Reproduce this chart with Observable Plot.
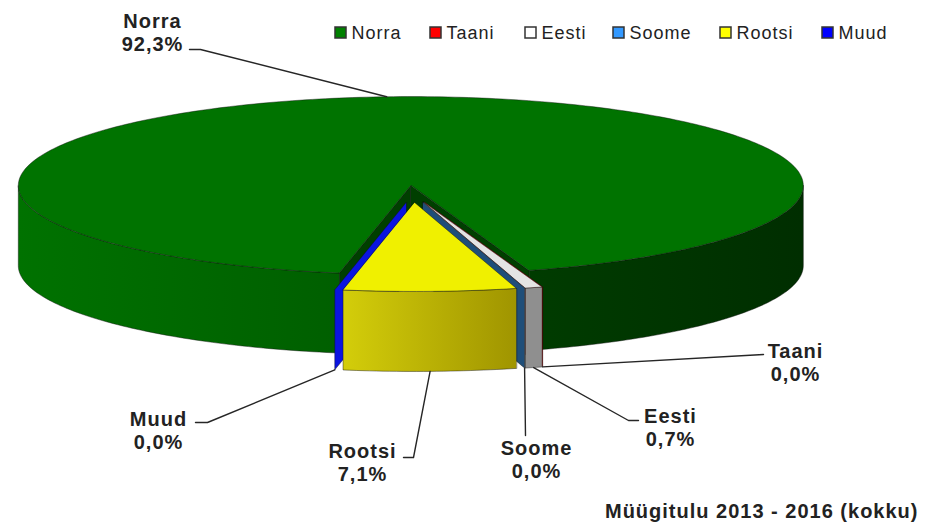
<!DOCTYPE html>
<html><head><meta charset="utf-8">
<script src="https://cdn.jsdelivr.net/npm/d3@7"></script>
<script src="https://cdn.jsdelivr.net/npm/@observablehq/plot@0.6"></script>
<style>body{margin:0;background:#fff}</style>
</head><body><div id="chart"></div>
<script>
// ---- data ----
const categories = ["Norra", "Taani", "Eesti", "Soome", "Rootsi", "Muud"];
const shares = [92.3, 0.0, 0.7, 0.0, 7.1, 0.0];
const shareLabels = ["92,3%", "0,0%", "0,7%", "0,0%", "7,1%", "0,0%"];
const caption = "Müügitulu 2013 - 2016 (kokku)";

// ---- styles ----
const legendColors = ["#008000", "#ff0000", "#ffffff", "#3399ff", "#ffff00", "#0000ff"];
const topColors = ["#007300", "#ff0000", "#e4e4e4", "#3399ff", "#f0f000", "#0000ff"];
const faceColors = ["#003f00", "#c00000", "#a8a8a8", "#1f4e79", "#b5ad00", "#0a14e0"];
const wallFills = ["url(#gNorra)", "#c00000", "#8f8f8f", "#1f4e79", "url(#gRootsi)", "#0000cc"];

// ---- layout ----
const W = 945, H = 523;
const geom = {cx: 412.6, cy: 193.5, rx: 392.5, ry: 89, depth: 80, explode: 0.095, start: 100.5};
const drawOrder = [0, 1, 2, 3, 5, 4];
const labelLayout = [
  {x: 152, y: 50, elbow: [200, 49], end: [189, 49], back: true},
  {x: 795, y: 380, elbow: [763, 354], end: [763, 354]},
  {x: 670, y: 445, elbow: [628, 420], end: [638, 420]},
  {x: 536, y: 477, elbow: [525, 435], end: [525, 435]},
  {x: 362, y: 480, elbow: [413, 457], end: [403, 457]},
  {x: 158, y: 448, elbow: [207, 422], end: [195, 422]}
];
const legendX = [335, 430, 525, 613, 720, 822];

// ---- geometry from data ----
const R = Math.PI / 180;
const pie = d3.pie().sort(null).value(d => d)
  .startAngle((geom.start + 90) * R).endAngle((geom.start + 90 + 360) * R);
const arcs = pie(shares);
const slices = arcs.map((a, i) => {
  const t0 = a.startAngle / R - 90, t1 = a.endAngle / R - 90;
  const b = (t0 + t1) / 2;
  const c = [geom.cx + geom.explode * geom.rx * Math.cos(b * R),
             geom.cy + geom.explode * geom.ry * Math.sin(b * R)];
  return {i, t0, t1, b, c};
});
function rim(c, t, dz = 0) {
  return {x: c[0] + geom.rx * Math.cos(t * R), y: c[1] + geom.ry * Math.sin(t * R) + dz};
}
function arcPts(c, a, b, dz = 0) {
  const n = Math.max(1, Math.ceil(Math.abs(b - a)));
  return d3.range(n + 1).map(k => rim(c, a + (b - a) * k / n, dz));
}
const polys = [];
for (const i of drawOrder) {
  const s = slices[i], c = s.c, d = geom.depth;
  const face = t => [{x: c[0], y: c[1]}, rim(c, t), rim(c, t, d), {x: c[0], y: c[1] + d}];
  if (Math.cos(s.t0 * R) < 0) polys.push({pts: face(s.t0), fill: faceColors[i]});
  if (Math.cos(s.t1 * R) > 0) polys.push({pts: face(s.t1), fill: faceColors[i]});
  for (let k = -1; k <= 2; k++) {
    const lo = Math.max(s.t0, 360 * k), hi = Math.min(s.t1, 360 * k + 180);
    if (hi > lo) polys.push({pts: [...arcPts(c, lo, hi), ...arcPts(c, hi, lo, d)], fill: wallFills[i]});
  }
  if (s.t1 - s.t0 > 0.01) polys.push({pts: [{x: c[0], y: c[1]}, ...arcPts(c, s.t0, s.t1)], fill: topColors[i]});
}
const leaders = slices.map((s, i) => {
  const L = labelLayout[i];
  const p0 = L.back ? rim(s.c, s.b) : rim(s.c, s.b, geom.depth);
  return [p0, {x: L.elbow[0], y: L.elbow[1]}, {x: L.end[0], y: L.end[1]}];
});
const labels = categories.map((name, i) => ({x: labelLayout[i].x, y: labelLayout[i].y, text: name + "\n" + shareLabels[i]}));
const legend = categories.map((name, i) => ({name, x: legendX[i], color: legendColors[i]}));

const chart = Plot.plot({
  width: W, height: H, margin: 0,
  x: {domain: [0, W], range: [0, W], axis: null},
  y: {domain: [0, H], range: [0, H], axis: null},
  style: {fontFamily: "'Liberation Sans', Arial, sans-serif", background: "#fff", letterSpacing: "1px", color: "#222"},
  marks: [
    ...polys.map(p => Plot.line(p.pts, {x: "x", y: "y", curve: "linear-closed", fill: p.fill,
      stroke: "#111", strokeOpacity: 0.55, strokeWidth: 0.8, strokeLinejoin: "round"})),
    ...leaders.map(l => Plot.line(l, {x: "x", y: "y", stroke: "#262626", strokeWidth: 1.4})),
    Plot.text(labels, {x: "x", y: "y", text: "text", textAnchor: "middle", lineAnchor: "bottom",
      lineHeight: 1.15, fontSize: 20, fontWeight: "bold", fill: "#222"}),
    Plot.rect(legend, {x1: "x", x2: d => d.x + 11, y1: 27, y2: 38, fill: "color", stroke: "#333", strokeWidth: 1.5}),
    Plot.text(legend, {x: d => d.x + 16, y: 38, text: "name", textAnchor: "start", lineAnchor: "bottom",
      fontSize: 18, fill: "#222"}),
    Plot.text([caption], {x: 918, y: 517, text: d => d, textAnchor: "end", lineAnchor: "bottom",
      fontSize: 20, fontWeight: "bold", fill: "#222"})
  ],
  color: {type: "identity"}
});

const defs = d3.create("svg:defs");
function grad(id, x1, x2, stops) {
  const g = defs.append("linearGradient").attr("id", id).attr("gradientUnits", "userSpaceOnUse")
    .attr("x1", x1).attr("x2", x2).attr("y1", 0).attr("y2", 0);
  for (const [o, col] of stops) g.append("stop").attr("offset", o).attr("stop-color", col);
}
grad("gNorra", 17, 803, [[0, "#007200"], [0.41, "#005f00"], [0.65, "#003c00"], [1, "#002e00"]]);
grad("gRootsi", 341, 515, [[0, "#d4ce0a"], [1, "#a09500"]]);
chart.insertBefore(defs.node(), chart.firstChild);
document.getElementById("chart").append(chart);
</script>
</body></html>
